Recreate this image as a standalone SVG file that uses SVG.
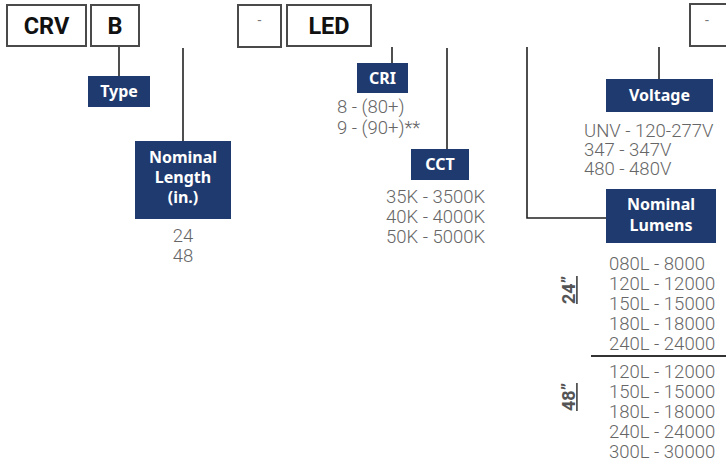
<svg xmlns="http://www.w3.org/2000/svg" width="726" height="461" viewBox="0 0 726 461">
<style>
.box{fill:#fff;stroke:#4a4a4a;stroke-width:2}
.code{font-family:Roboto,"Liberation Sans",sans-serif;font-weight:700;font-size:23.5px;fill:#111;text-anchor:middle}
.dash{font-family:Roboto,"Liberation Sans",sans-serif;font-size:14px;fill:#777;text-anchor:middle}
.lbl{fill:#1f3a6e}
.lt{font-family:"Noto Sans","Open Sans",sans-serif;font-weight:700;font-size:16px;fill:#fff;text-anchor:middle}
.val{font-family:Roboto,"Liberation Sans",sans-serif;font-weight:300;font-size:18.5px;fill:#666}
.ln{stroke:#222;stroke-width:1.6;fill:none}
.len{font-family:Roboto,"Liberation Sans",sans-serif;font-weight:700;font-size:18px;fill:#555;text-anchor:middle}
</style>
<g id="connectors">
<line class="ln" x1="119" y1="46" x2="119" y2="76"/>
<line class="ln" x1="183" y1="48" x2="183" y2="141"/>
<line class="ln" x1="392" y1="47" x2="392" y2="63"/>
<line class="ln" x1="447" y1="48" x2="447" y2="149"/>
<polyline class="ln" points="527,47 527,218 606,218"/>
<line class="ln" x1="659" y1="47" x2="659" y2="79"/>
<line x1="591" y1="356" x2="726" y2="356" stroke="#333" stroke-width="2"/>
</g>
<g id="box-crv"><rect class="box" x="7" y="5" width="79" height="41"/><text class="code" x="46.5" y="34">CRV</text></g>
<g id="box-b"><rect class="box" x="91" y="5" width="48" height="41"/><text class="code" x="115" y="34">B</text></g>
<g id="box-dash1"><rect class="box" x="238" y="5" width="43" height="42"/><text class="dash" x="259.5" y="25">-</text></g>
<g id="box-led"><rect class="box" x="287" y="5" width="84" height="41"/><text class="code" x="329" y="34">LED</text></g>
<g id="box-dash2"><rect class="box" x="690" y="4" width="40" height="42"/><text class="dash" x="707" y="25">-</text></g>
<g id="type"><rect class="lbl" x="88" y="76" width="62" height="31"/><text class="lt" x="119" y="97">Type</text></g>
<g id="nominal-length"><rect class="lbl" x="135" y="141" width="96" height="78"/>
<text class="lt" x="183" y="163">Nominal</text><text class="lt" x="183" y="183">Length</text><text class="lt" x="183" y="203">(in.)</text>
<text class="val" x="183" y="242" text-anchor="middle">24</text><text class="val" x="183" y="262" text-anchor="middle">48</text></g>
<g id="cri"><rect class="lbl" x="357" y="63" width="51" height="30"/><text class="lt" x="382.5" y="84">CRI</text>
<text class="val" x="337" y="113">8 - (80+)</text><text class="val" x="337" y="134">9 - (90+)**</text></g>
<g id="cct"><rect class="lbl" x="411" y="149" width="58" height="31"/><text class="lt" x="440" y="170">CCT</text>
<text class="val" x="386" y="203">35K - 3500K</text><text class="val" x="386" y="223">40K - 4000K</text><text class="val" x="386" y="243">50K - 5000K</text></g>
<g id="voltage"><rect class="lbl" x="606" y="79" width="107" height="33"/><text class="lt" x="659.5" y="101">Voltage</text>
<text class="val" x="584" y="137">UNV - 120-277V</text><text class="val" x="584" y="156">347 - 347V</text><text class="val" x="584" y="175">480 - 480V</text></g>
<g id="nominal-lumens"><rect class="lbl" x="606" y="189" width="110" height="54"/>
<text class="lt" x="661" y="210">Nominal</text><text class="lt" x="661" y="231">Lumens</text>
<text class="val" x="609" y="270">080L - 8000</text><text class="val" x="609" y="290">120L - 12000</text><text class="val" x="609" y="310">150L - 15000</text><text class="val" x="609" y="330">180L - 18000</text><text class="val" x="609" y="350">240L - 24000</text>
<text class="val" x="609" y="378">120L - 12000</text><text class="val" x="609" y="398">150L - 15000</text><text class="val" x="609" y="418">180L - 18000</text><text class="val" x="609" y="438">240L - 24000</text><text class="val" x="609" y="458">300L - 30000</text>
<text class="len" transform="translate(575,290) rotate(-90)" text-decoration="underline">24”</text>
<text class="len" transform="translate(575,397) rotate(-90)" text-decoration="underline">48”</text>
</g>
</svg>
